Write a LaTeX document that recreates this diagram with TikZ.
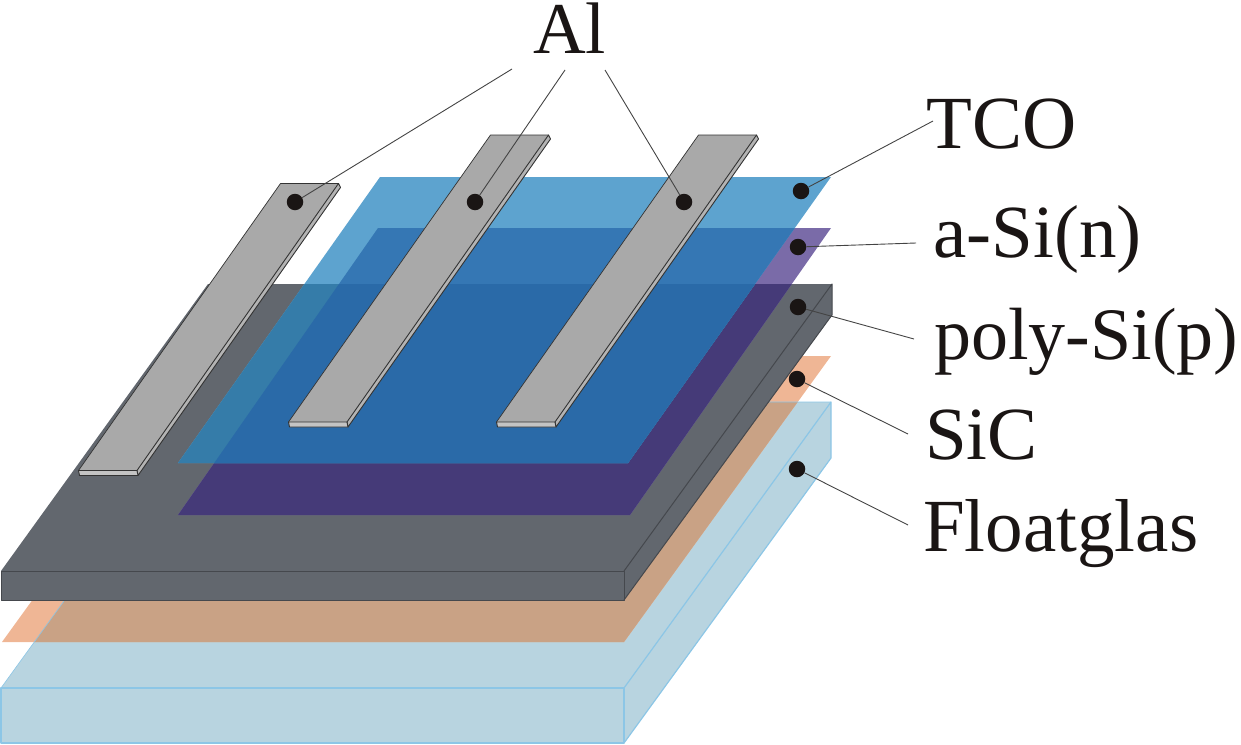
\documentclass[tikz,border=0pt]{standalone}
\usepackage{fontspec}
\setmainfont{Liberation Serif}
\definecolor{glass}{HTML}{B8D4E0}
\definecolor{glassedge}{HTML}{8CC6E6}
\definecolor{sic}{HTML}{EFB695}
\definecolor{sicglass}{HTML}{C9A285}
\definecolor{poly}{HTML}{62676E}
\definecolor{polyedge}{HTML}{45484D}
\definecolor{asi}{HTML}{7A6BA8}
\definecolor{asipoly}{HTML}{453A78}
\definecolor{tco}{HTML}{5DA3CF}
\definecolor{tcoasi}{HTML}{3577B4}
\definecolor{tcopoly}{HTML}{357CA9}
\definecolor{tcoboth}{HTML}{2A6AA8}
\definecolor{altop}{HTML}{A9A9A9}
\definecolor{alfront}{HTML}{C4C4C4}
\definecolor{alside}{HTML}{B4B4B4}
\definecolor{dotblack}{HTML}{1A1514}
\definecolor{lead}{HTML}{444444}
\definecolor{labelink}{HTML}{1A1514}
\tikzset{
  dotmark/.style={circle,fill=dotblack,minimum size=16.5pt,inner sep=0pt},
  leader/.style={draw=lead,line width=0.9pt},
  lab/.style={anchor=base west,inner sep=0pt,text=labelink,font=\fontsize{75}{75}\selectfont},
  glassline/.style={draw=glassedge,line width=1.2pt,line join=round},
  polyline/.style={draw=polyedge,line width=1pt,line join=round},
  alline/.style={draw=black!80,line width=0.9pt,line join=round}
}
\newcommand{\polytop}{(1,571) -- (624,571) -- (831,284) -- (208,284) -- cycle}
\newcommand{\glasstop}{(1,688) -- (624,688) -- (831,402) -- (208,402) -- cycle}
\newcommand{\sictop}{(2,642) -- (624,642) -- (831,356) -- (209,356) -- cycle}
\newcommand{\asitop}{(178,515) -- (630,515) -- (831,228) -- (378,228) -- cycle}
\newcommand{\tcotop}{(178,463) -- (628,463) -- (831,177) -- (380,177) -- cycle}
\newcommand{\alstrip}[2]{%
  \pgfmathsetmacro{\fl}{#1}\pgfmathsetmacro{\fy}{#2}%
  \pgfmathsetmacro{\fr}{\fl+58.5}\pgfmathsetmacro{\bl}{\fl+202}%
  \pgfmathsetmacro{\br}{\fl+260}\pgfmathsetmacro{\by}{\fy-287}%
  \fill[altop] (\fl,\fy) -- (\fr,\fy) -- (\br,\by) -- (\bl,\by) -- cycle;
  \filldraw[fill=alside,alline] (\fr,\fy) -- (\br,\by) -- (\br+2,\by+4) -- (\fr+1,\fy+5) -- cycle;
  \filldraw[fill=alfront,alline] (\fl,\fy) -- (\fr,\fy) -- (\fr+1,\fy+5) -- (\fl+1,\fy+5) -- cycle;
  \draw[alline,line width=0.7pt] (\fl,\fy) -- (\bl,\by) -- (\br,\by);
}
\begin{document}
\begin{tikzpicture}[x=1pt,y=-1pt]
\useasboundingbox (0,0) rectangle (1241,744);
% Floatglas
\fill[glass] (1,688) -- (1,743) -- (624,743) -- (831,458) -- (831,402) -- (208,402) -- cycle;
% SiC
\fill[sic] \sictop;
\begin{scope}
  \clip \glasstop;
  \fill[sicglass] \sictop;
\end{scope}
\draw[glassline] (1,688) rectangle (624,743);
\draw[glassline] (624,688) -- (831,402) -- (831,458) -- (624,743);
\draw[glassline,line width=0.6pt] (1,688) -- (208,402) -- (831,402);
% poly-Si
\fill[poly] (1,571) -- (1,600) -- (624,600) -- (832,315) -- (832,284) -- (208,284) -- cycle;
\draw[polyline] (1,571) rectangle (624,600);
\draw[polyline] (624,571) -- (832,284) -- (832,315) -- (624,600);
% a-Si
\fill[asi] \asitop;
\begin{scope}
  \clip \polytop;
  \fill[asipoly] \asitop;
\end{scope}
% TCO
\fill[tco] \tcotop;
\begin{scope}
  \clip \asitop;
  \fill[tcoasi] \tcotop;
\end{scope}
\begin{scope}
  \clip \polytop;
  \fill[tcopoly] \tcotop;
  \clip \asitop;
  \fill[tcoboth] \tcotop;
\end{scope}
% Al strips
\alstrip{78.5}{470.5}
\alstrip{288.5}{422}
\alstrip{496.5}{422}
% labels
\node[lab,font=\fontsize{73}{73}\selectfont] (al) at (533,53.5) {Al};
\node[lab] (ltco) at (926,148) {TCO};
\node[lab] (lasi) at (933,257) {a-Si(n)};
\node[lab,font=\fontsize{74}{74}\selectfont] (lpol) at (934,359) {poly-Si(p)};
\node[lab] (lsic) at (925,459) {SiC};
\node[lab] (lflo) at (923,551) {Floatglas};
\coordinate (c1) at (512,69);
\coordinate (c2) at (565,70);
\coordinate (c3) at (605,70);
\coordinate (c4) at (933,121);
\coordinate (c5) at (916,243);
\coordinate (c6) at (914,339);
\coordinate (c7) at (908,434);
\coordinate (c8) at (908,525);
% dots
\node[dotmark] (d1) at (295,202) {};
\node[dotmark] (d2) at (475,202) {};
\node[dotmark] (d3) at (684,202) {};
\node[dotmark] (d4) at (801,191) {};
\node[dotmark] (d5) at (798,247) {};
\node[dotmark] (d6) at (798,307) {};
\node[dotmark] (d7) at (797,379) {};
\node[dotmark] (d8) at (797,469) {};
% connectors
\draw[leader] (c1) -- (d1);
\draw[leader] (c2) -- (d2);
\draw[leader] (c3) -- (d3);
\draw[leader] (c4) -- (d4);
\draw[leader] (c5) -- (d5);
\draw[leader] (c6) -- (d6);
\draw[leader] (c7) -- (d7);
\draw[leader] (c8) -- (d8);
\end{tikzpicture}
\end{document}
